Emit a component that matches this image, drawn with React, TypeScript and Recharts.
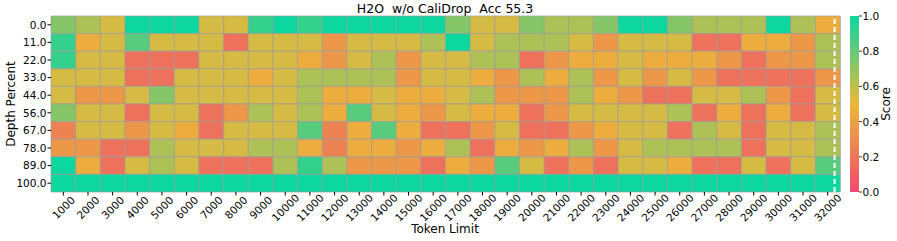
import React from "react";
import { BarChart, Bar, Cell, XAxis, YAxis, ReferenceLine } from "recharts";

const tokenLimits = [
  1000, 2000, 3000, 4000, 5000, 6000, 7000, 8000, 9000, 10000, 11000, 12000, 13000, 14000, 15000, 16000,
  17000, 18000, 19000, 20000, 21000, 22000, 23000, 24000, 25000, 26000, 27000, 28000, 29000, 30000, 31000, 32000,
];
const depthPercents = ["0.0", "11.0", "22.0", "33.0", "44.0", "56.0", "67.0", "78.0", "89.0", "100.0"];

// one row per depth, one value per token limit
const depth0 = [0.73, 0.64, 0.55, 1, 1, 1, 0.55, 0.55, 0.91, 1, 0.91, 1, 1, 1, 1, 1, 0.73, 0.55, 0.55, 0.73, 0.64, 0.64, 0.73, 1, 1, 0.73, 0.64, 0.64, 0.64, 1, 0.64, 0.45];
const depth11 = [0.91, 0.45, 0.55, 0.83, 0.55, 0.55, 0.55, 0.18, 0.55, 0.55, 0.55, 0.35, 0.55, 0.55, 0.55, 0.64, 1, 0.55, 0.64, 0.64, 0.64, 0.55, 0.35, 0.55, 0.55, 0.55, 0.18, 0.18, 0.45, 0.45, 0.35, 0.64];
const depth22 = [0.91, 0.55, 0.55, 0.18, 0.18, 0.18, 0.55, 0.55, 0.55, 0.55, 0.45, 0.35, 0.55, 0.64, 0.35, 0.55, 0.55, 0.64, 0.64, 0.18, 0.35, 0.45, 0.45, 0.55, 0.45, 0.45, 0.45, 0.35, 0.18, 0.35, 0.35, 0.64];
const depth33 = [0.55, 0.55, 0.55, 0.18, 0.18, 0.55, 0.55, 0.55, 0.45, 0.55, 0.64, 0.64, 0.64, 0.64, 0.35, 0.55, 0.55, 0.45, 0.35, 0.64, 0.45, 0.64, 0.35, 0.55, 0.35, 0.55, 0.35, 0.18, 0.18, 0.18, 0.18, 0.35];
const depth44 = [0.55, 0.35, 0.35, 0.55, 0.73, 0.55, 0.55, 0.55, 0.55, 0.55, 0.64, 0.45, 0.45, 0.55, 0.45, 0.45, 0.55, 0.64, 0.35, 0.35, 0.35, 0.64, 0.45, 0.35, 0.18, 0.18, 0.55, 0.55, 0.64, 0.35, 0.18, 0.55];
const depth56 = [0.73, 0.55, 0.55, 0.18, 0.55, 0.55, 0.18, 0.35, 0.64, 0.55, 0.64, 0.45, 0.83, 0.55, 0.45, 0.35, 0.55, 0.45, 0.45, 0.18, 0.35, 0.55, 0.55, 0.55, 0.55, 0.64, 0.18, 0.45, 0.18, 0.45, 0.18, 0.55];
const depth67 = [0.26, 0.55, 0.55, 0.35, 0.55, 0.45, 0.18, 0.55, 0.55, 0.55, 0.83, 0.26, 0.45, 0.83, 0.45, 0.18, 0.18, 0.35, 0.55, 0.18, 0.18, 0.35, 0.45, 0.55, 0.55, 0.18, 0.64, 0.55, 0.18, 0.55, 0.55, 0.64];
const depth78 = [0.35, 0.35, 0.18, 0.18, 0.64, 0.55, 0.55, 0.55, 0.64, 0.64, 0.45, 0.26, 0.45, 0.45, 0.35, 0.45, 0.64, 0.18, 0.45, 0.35, 0.45, 0.64, 0.35, 0.55, 0.64, 0.64, 0.64, 0.64, 0.18, 0.55, 0.55, 0.64];
const depth89 = [1, 0.45, 0.18, 0.55, 0.64, 0.55, 0.18, 0.18, 0.18, 0.64, 0.91, 0.64, 0.35, 0.35, 0.35, 0.18, 0.45, 0.35, 0.83, 0.55, 0.18, 0.35, 0.18, 0.55, 0.55, 0.45, 0.18, 0.18, 0.55, 0.18, 0.55, 0.83];
const depth100 = [1, 1, 1, 1, 1, 1, 1, 1, 1, 1, 1, 1, 1, 1, 1, 1, 1, 1, 1, 1, 1, 1, 1, 1, 1, 1, 1, 1, 1, 1, 1, 1];

const scores = [depth0, depth11, depth22, depth33, depth44, depth56, depth67, depth78, depth89, depth100];

// dashed marker sits inside the last column, about 3/4 of the way across
const markerToken = 32000;
const markerFrac = 0.28;

const cmapStops = [
  [240, 73, 110],
  [235, 184, 57],
  [12, 215, 159],
];

function scoreColor(v: number): string {
  const t = Math.max(0, Math.min(1, v)) * 2;
  const i = t < 1 ? 0 : 1;
  const f = t - i;
  const a = cmapStops[i];
  const b = cmapStops[i + 1];
  const c = a.map((x, k) => Math.round(x + (b[k] - x) * f));
  return `rgb(${c[0]},${c[1]},${c[2]})`;
}

const chartData = tokenLimits.map((token) => {
  const row: Record<string, number> = { token };
  scores.forEach((_, i) => {
    row[`d${i}`] = 1;
  });
  return row;
});

const FONT = "DejaVu Sans";
const W = 897;
const H = 241;
const PLOT_LEFT = 51;
const PLOT_RIGHT = 840;
const PLOT_TOP = 16;
const PLOT_BOTTOM = 192;
const bandWidth = (PLOT_RIGHT - PLOT_LEFT) / tokenLimits.length;

function XTick(props: any) {
  const { x, y, payload } = props;
  return (
    <g transform={`translate(${x},${y + 12}) rotate(-45)`}>
      <text textAnchor="middle" dominantBaseline="central" fontSize={10.5} fontFamily={FONT} fill="#000">
        {payload.value}
      </text>
    </g>
  );
}

function MarkerLine(props: any) {
  const dx = markerFrac * bandWidth;
  return (
    <line
      x1={props.x1 + dx}
      x2={props.x2 + dx}
      y1={props.y1}
      y2={props.y2}
      stroke="#fff"
      strokeWidth={2}
      strokeDasharray="5 3"
    />
  );
}

const cbTicks = [0, 0.2, 0.4, 0.6, 0.8, 1.0];

export default function App() {
  const nRows = scores.length;
  return (
    <div style={{ position: "absolute", left: 0, top: 0, width: W, height: H, background: "#fff" }}>
      <BarChart
        width={W}
        height={H}
        data={chartData}
        margin={{ top: PLOT_TOP, right: W - PLOT_RIGHT, bottom: 0, left: 0 }}
        barCategoryGap={0}
        barGap={0}
      >
        <XAxis
          dataKey="token"
          interval={0}
          height={H - PLOT_BOTTOM}
          tickSize={3.5}
          tickMargin={0}
          axisLine={false}
          tickLine={{ stroke: "#000" }}
          tick={<XTick />}
        />
        <YAxis
          type="number"
          domain={[0, nRows]}
          reversed
          width={PLOT_LEFT}
          ticks={depthPercents.map((_, i) => i + 0.5)}
          tickFormatter={(v: number) => depthPercents[Math.floor(v)]}
          tickSize={3.5}
          tickMargin={1}
          axisLine={false}
          tickLine={{ stroke: "#000" }}
          tick={{ fontSize: 10.5, fontFamily: FONT, fill: "#000" }}
        />
        {scores.map((rowVals, i) => (
          <Bar key={i} dataKey={`d${i}`} stackId="a" isAnimationActive={false}>
            {rowVals.map((v, j) => (
              <Cell key={j} fill={scoreColor(v)} stroke="#9c9c9c" strokeWidth={0.7} />
            ))}
          </Bar>
        ))}
        <ReferenceLine x={markerToken} shape={<MarkerLine />} />
      </BarChart>
      <svg width={W} height={H} style={{ position: "absolute", left: 0, top: 0, pointerEvents: "none" }}>
        <defs>
          <linearGradient id="cb" x1="0" y1="1" x2="0" y2="0">
            <stop offset="0%" stopColor={scoreColor(0)} />
            <stop offset="50%" stopColor={scoreColor(0.5)} />
            <stop offset="100%" stopColor={scoreColor(1)} />
          </linearGradient>
        </defs>
        <text x={445} y={13} textAnchor="middle" fontSize={12.5} fontFamily={FONT} fill="#000" style={{ whiteSpace: "pre" }}>
          {"H2O  w/o CaliDrop  Acc 55.3"}
        </text>
        <text x={445} y={233} textAnchor="middle" fontSize={12} fontFamily={FONT} fill="#000">
          Token Limit
        </text>
        <text
          x={0}
          y={0}
          transform={`translate(15,${(PLOT_TOP + PLOT_BOTTOM) / 2}) rotate(-90)`}
          textAnchor="middle"
          fontSize={12}
          fontFamily={FONT}
          fill="#000"
        >
          Depth Percent
        </text>
        <rect x={850} y={PLOT_TOP} width={9} height={PLOT_BOTTOM - PLOT_TOP} fill="url(#cb)" />
        {cbTicks.map((t) => {
          const y = PLOT_BOTTOM - t * (PLOT_BOTTOM - PLOT_TOP);
          return (
            <g key={t}>
              <line x1={859} x2={862} y1={y} y2={y} stroke="#000" strokeWidth={0.8} />
              <text x={862.5} y={y} dominantBaseline="central" fontSize={10.5} fontFamily={FONT} fill="#000">
                {t.toFixed(1)}
              </text>
            </g>
          );
        })}
        <text
          x={0}
          y={0}
          transform={`translate(890,${(PLOT_TOP + PLOT_BOTTOM) / 2}) rotate(-90)`}
          textAnchor="middle"
          fontSize={12}
          fontFamily={FONT}
          fill="#000"
        >
          Score
        </text>
      </svg>
    </div>
  );
}
